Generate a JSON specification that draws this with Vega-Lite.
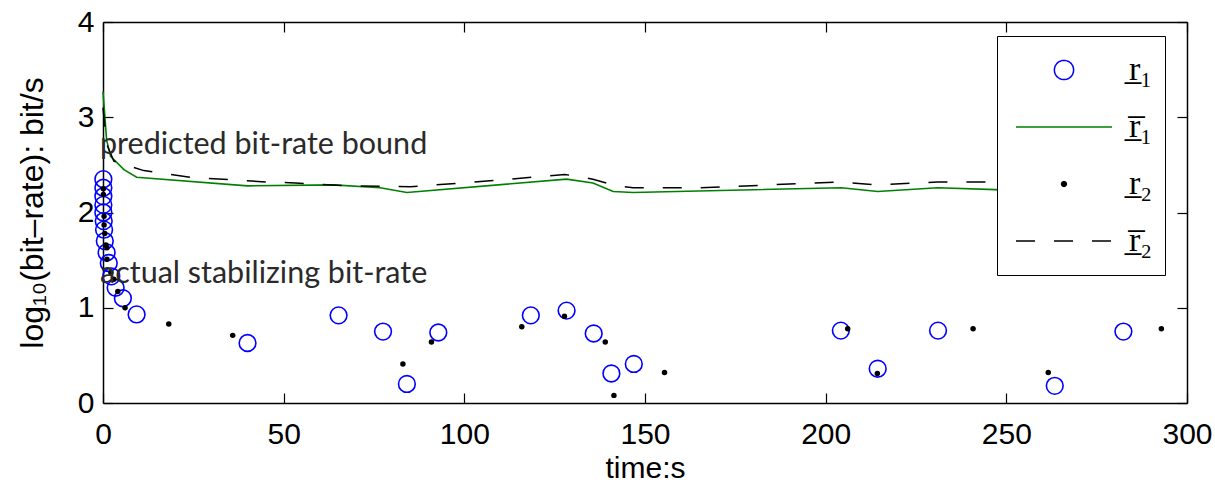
{
  "$schema": "https://vega.github.io/schema/vega-lite/v6.json",
  "width": 1084,
  "height": 381,
  "autosize": {"type": "none"},
  "padding": {"left": 103, "top": 22, "right": 28, "bottom": 80},
  "background": "white",
  "config": {
    "view": {"stroke": null},
    "axis": {
      "domainColor": "black",
      "domainWidth": 1.5,
      "tickColor": "black",
      "tickWidth": 1.2,
      "tickSize": -10,
      "grid": false,
      "labelFont": "Liberation Sans",
      "labelFontSize": 30,
      "labelColor": "black",
      "titleFont": "Liberation Sans",
      "titleFontSize": 30,
      "titleFontWeight": "normal",
      "titleColor": "black",
      "labelFlush": false,
      "labelOverlap": false
    }
  },
  "resolve": {"axis": {"x": "independent", "y": "independent"}},
  "layer": [
    {
      "data": {"values": [
        {"t": 0, "v": 3.27}, {"t": 1.0, "v": 2.76}, {"t": 2.1, "v": 2.59}, {"t": 5.8, "v": 2.45},
        {"t": 9.3, "v": 2.37}, {"t": 40, "v": 2.28}, {"t": 63.8, "v": 2.29}, {"t": 76.7, "v": 2.26},
        {"t": 84.1, "v": 2.21}, {"t": 128.3, "v": 2.35}, {"t": 135.6, "v": 2.31}, {"t": 141.2, "v": 2.22},
        {"t": 146.7, "v": 2.21}, {"t": 204.3, "v": 2.26}, {"t": 214.4, "v": 2.22}, {"t": 231, "v": 2.26},
        {"t": 247, "v": 2.24}, {"t": 263, "v": 2.22}, {"t": 282, "v": 2.25}, {"t": 293, "v": 2.25}
      ]},
      "mark": {"type": "line", "strokeWidth": 1.6, "color": "#008000"},
      "encoding": {
        "x": {"field": "t", "type": "quantitative", "scale": {"domain": [0, 300], "nice": false, "zero": false}, "axis": null},
        "y": {"field": "v", "type": "quantitative", "scale": {"domain": [0, 4], "nice": false, "zero": false}, "axis": null}
      }
    },
    {
      "data": {"values": [
        {"t": 0, "v": 3.1}, {"t": 1.0, "v": 2.72}, {"t": 3.0, "v": 2.54}, {"t": 11.3, "v": 2.44},
        {"t": 24.2, "v": 2.37}, {"t": 45.4, "v": 2.32}, {"t": 53.2, "v": 2.31}, {"t": 67.5, "v": 2.28},
        {"t": 85, "v": 2.27}, {"t": 106.2, "v": 2.33}, {"t": 127.8, "v": 2.40}, {"t": 135.6, "v": 2.35},
        {"t": 142.1, "v": 2.28}, {"t": 146.7, "v": 2.26}, {"t": 165, "v": 2.26}, {"t": 204.3, "v": 2.32},
        {"t": 214.4, "v": 2.29}, {"t": 231, "v": 2.32}, {"t": 246, "v": 2.32}, {"t": 263, "v": 2.30},
        {"t": 282, "v": 2.32}, {"t": 293, "v": 2.32}
      ]},
      "mark": {"type": "line", "strokeWidth": 1.5, "strokeDash": [19, 19], "color": "#000000"},
      "encoding": {
        "x": {"field": "t", "type": "quantitative", "axis": null},
        "y": {"field": "v", "type": "quantitative", "axis": null}
      }
    },
    {
      "data": {"values": [
        {"t": 0.1, "v": 2.35}, {"t": 0.1, "v": 2.26}, {"t": 0.1, "v": 2.17}, {"t": 0.1, "v": 2.08},
        {"t": 0.1, "v": 2.00}, {"t": 0.2, "v": 1.91}, {"t": 0.3, "v": 1.82}, {"t": 0.5, "v": 1.70},
        {"t": 1.0, "v": 1.58}, {"t": 1.6, "v": 1.47}, {"t": 2.3, "v": 1.33}, {"t": 3.5, "v": 1.21},
        {"t": 5.5, "v": 1.10}, {"t": 9.3, "v": 0.93}, {"t": 40.0, "v": 0.63}, {"t": 65.2, "v": 0.92},
        {"t": 77.5, "v": 0.75}, {"t": 84.1, "v": 0.20}, {"t": 92.8, "v": 0.74}, {"t": 118.4, "v": 0.92},
        {"t": 128.3, "v": 0.97}, {"t": 135.8, "v": 0.73}, {"t": 140.7, "v": 0.31}, {"t": 146.9, "v": 0.41},
        {"t": 204.2, "v": 0.76}, {"t": 214.4, "v": 0.36}, {"t": 231.1, "v": 0.76}, {"t": 263.4, "v": 0.18},
        {"t": 282.4, "v": 0.75}
      ]},
      "transform": [{"calculate": "'r1'", "as": "series"}],
      "mark": {"type": "point", "filled": false, "size": 280, "strokeWidth": 1.6, "opacity": 1},
      "encoding": {
        "x": {"field": "t", "type": "quantitative",
              "axis": {"orient": "bottom", "values": [0, 50, 100, 150, 200, 250, 300], "title": "time:s", "labelPadding": 26, "titlePadding": 4}},
        "y": {"field": "v", "type": "quantitative",
              "axis": {"orient": "left", "values": [0, 1, 2, 3, 4], "title": "log\u2081\u2080(bit\u2013rate): bit/s", "titleFontSize": 32, "labelPadding": 19, "titlePadding": 28}},
        "color": {"field": "series", "type": "nominal",
          "scale": {"domain": ["r1", "r1bar", "r2", "r2bar"], "range": ["#0000ff", "#008000", "#000000", "#000000"]},
          "legend": {
            "orient": "none", "legendX": 894, "legendY": 14, "title": null,
            "strokeColor": "black", "fillColor": "white", "padding": 12,
            "symbolSize": 9216, "clipHeight": 44, "rowPadding": 13,
            "symbolOffset": 6, "symbolStrokeWidth": 1.5,
            "symbolType": {"expr": "datum.value == 'r1' ? 'M 0.2 0 C 0.2 0.1105 0.1105 0.2 0 0.2 C -0.1105 0.2 -0.2 0.1105 -0.2 0 C -0.2 -0.1105 -0.1105 -0.2 0 -0.2 C 0.1105 -0.2 0.2 -0.1105 0.2 0 Z' : datum.value == 'r2' ? 'M 0.05 0 C 0.05 0.0276 0.0276 0.05 0 0.05 C -0.0276 0.05 -0.05 0.0276 -0.05 0 C -0.05 -0.0276 -0.0276 -0.05 0 -0.05 C 0.0276 -0.05 0.05 -0.0276 0.05 0 Z M 0.022 0 C 0.022 0.0121 0.0121 0.022 0 0.022 C -0.0121 0.022 -0.022 0.0121 -0.022 0 C -0.022 -0.0121 -0.0121 -0.022 0 -0.022 C 0.0121 -0.022 0.022 -0.0121 0.022 0 Z M 0.006 0 L -0.006 0' : 'M -1 0 L 1 0'"},
            "symbolDash": {"expr": "datum.value == 'r2bar' ? [19, 19] : [1, 0]"},
            "labelFont": "Liberation Serif", "labelFontSize": 34, "labelColor": "black", "labelOffset": 16,
            "labelExpr": "datum.value == 'r1' ? 'r\u0332\u2081\u00a0\u00a0\u00a0' : datum.value == 'r1bar' ? 'r\u0305\u0332\u2081\u00a0\u00a0\u00a0' : datum.value == 'r2' ? 'r\u0332\u2082\u00a0\u00a0\u00a0' : 'r\u0305\u0332\u2082\u00a0\u00a0\u00a0'"
          }
        }
      }
    },
    {
      "data": {"values": [
        {"t": 0.1, "v": 2.25}, {"t": 0.1, "v": 2.19}, {"t": 0.3, "v": 1.96}, {"t": 0.3, "v": 1.87},
        {"t": 0.5, "v": 1.78}, {"t": 0.8, "v": 1.66}, {"t": 1.1, "v": 1.63}, {"t": 1.1, "v": 1.51},
        {"t": 2.2, "v": 1.37}, {"t": 3.0, "v": 1.30}, {"t": 4.1, "v": 1.17}, {"t": 6.1, "v": 1.00},
        {"t": 18.2, "v": 0.83}, {"t": 35.9, "v": 0.71}, {"t": 83.0, "v": 0.41}, {"t": 90.9, "v": 0.64},
        {"t": 115.9, "v": 0.80}, {"t": 127.7, "v": 0.91}, {"t": 139.0, "v": 0.64}, {"t": 141.4, "v": 0.08},
        {"t": 155.4, "v": 0.32}, {"t": 206.1, "v": 0.78}, {"t": 214.3, "v": 0.31}, {"t": 240.8, "v": 0.78},
        {"t": 261.6, "v": 0.32}, {"t": 292.9, "v": 0.78}
      ]},
      "mark": {"type": "point", "filled": true, "size": 30, "opacity": 1, "color": "#000000"},
      "encoding": {
        "x": {"field": "t", "type": "quantitative", "axis": null},
        "y": {"field": "v", "type": "quantitative", "axis": null}
      }
    },
    {
      "data": {"values": [
        {"label": "predicted bit-rate bound", "t": 0, "v": 2.61},
        {"label": "actual stabilizing bit-rate", "t": 0, "v": 1.26}
      ]},
      "mark": {"type": "text", "align": "left", "baseline": "alphabetic", "dx": -3, "font": "Lato", "fontSize": 30.5, "color": "#2a2a2a"},
      "encoding": {
        "x": {"field": "t", "type": "quantitative",
              "axis": {"orient": "top", "values": [0, 50, 100, 150, 200, 250, 300], "labels": false, "title": null}},
        "y": {"field": "v", "type": "quantitative",
              "axis": {"orient": "right", "values": [0, 1, 2, 3, 4], "labels": false, "title": null}},
        "text": {"field": "label"}
      }
    }
  ]
}
